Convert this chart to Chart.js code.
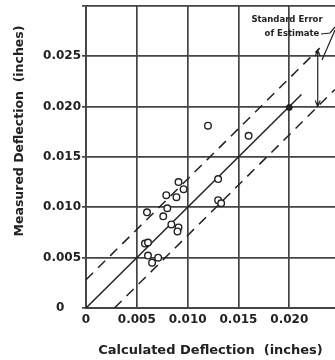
<!DOCTYPE html>
<html>
<head>
<meta charset="utf-8">
<script src="https://cdn.jsdelivr.net/npm/chart.js@4.4.1/dist/chart.umd.min.js"></script>
<style>
    body { margin: 0; background: #fff; }
    canvas { display: block; }
</style>
</head>
<body>
<canvas id="deflectionChart" width="335" height="360"></canvas>
<script>
// calculated vs measured deflection (inches)
var calcX = [0.0120, 0.0160, 0.0130, 0.0130, 0.0133, 0.0091, 0.0096, 0.0089, 0.0079, 0.0080,
             0.0060, 0.0076, 0.0084, 0.0091, 0.0090, 0.0058, 0.0061, 0.0061, 0.0071, 0.0065];
var measY = [0.0181, 0.0171, 0.0128, 0.0107, 0.0104, 0.0125, 0.0118, 0.0110, 0.0112, 0.0099,
             0.0095, 0.0091, 0.0083, 0.0080, 0.0076, 0.0064, 0.0065, 0.0052, 0.0050, 0.0045];
var filledX = [0.0200];
var filledY = [0.0199];

// line of equality and standard error band
var fitX = [0, 0.0212];
var fitY = [0, 0.0212];
var upperX = [0, 0.0230];
var upperY = [0.0028, 0.0258];
var lowerX = [0.0028, 0.0245];
var lowerY = [0, 0.0217];

// standard error marker
var errX = 0.0228;
var errY = [0.0200, 0.0256];

var xTicks = [0, 0.005, 0.010, 0.015, 0.020];
var xLabels = ["0", "0.005", "0.010", "0.015", "0.020"];
var yTicks = [0, 0.005, 0.010, 0.015, 0.020, 0.025, 0.030];
var yLabels = ["0    ", "0.005", "0.010", "0.015", "0.020", "0.025", ""];

function pairs(xs, ys) {
    return xs.map(function (x, i) { return { x: x, y: ys[i] }; });
}

var ink = "#222";
var gridInk = "#444";
var font = "'DejaVu Sans', sans-serif";

var extras = {
    id: "extras",
    afterDraw: function (chart) {
        var ctx = chart.ctx;
        var xs = chart.scales.x, ys = chart.scales.y;
        ctx.save();
        // y axis title
        ctx.fillStyle = ink;
        ctx.font = "bold 12.5px " + font;
        ctx.textAlign = "center";
        ctx.textBaseline = "middle";
        ctx.translate(20, 131);
        ctx.rotate(-Math.PI / 2);
        ctx.fillText("Measured Deflection  (inches)", 0, 0);
        ctx.restore();

        // standard error note
        ctx.save();
        ctx.fillStyle = ink;
        ctx.strokeStyle = ink;
        ctx.font = "bold 8.5px " + font;
        ctx.textAlign = "center";
        ctx.textBaseline = "middle";
        ctx.fillText("Standard Error", 287, 20);
        ctx.fillText("of Estimate", 292, 34);
        ctx.lineWidth = 1.2;
        ctx.beginPath();
        ctx.moveTo(321, 34);
        ctx.lineTo(330, 33);
        ctx.lineTo(335, 27);
        ctx.moveTo(322, 60);
        ctx.lineTo(335, 30);
        ctx.stroke();

        var px = xs.getPixelForValue(errX);
        var y0 = ys.getPixelForValue(errY[0]);
        var y1 = ys.getPixelForValue(errY[1]);
        ctx.beginPath();
        ctx.moveTo(px, y0);
        ctx.lineTo(px, y1);
        ctx.moveTo(px - 2.5, y1 + 6);
        ctx.lineTo(px, y1);
        ctx.lineTo(px + 2.5, y1 + 6);
        ctx.moveTo(px - 2.5, y0 - 6);
        ctx.lineTo(px, y0);
        ctx.lineTo(px + 2.5, y0 - 6);
        ctx.stroke();
        ctx.restore();
    }
};

var chart = new Chart(document.getElementById("deflectionChart"), {
    type: "scatter",
    data: {
        datasets: [
            {
                data: pairs(calcX, measY),
                pointRadius: 3.3,
                pointBorderWidth: 1.4,
                pointBorderColor: ink,
                pointBackgroundColor: "#fff",
            },
            {
                data: pairs(filledX, filledY),
                pointRadius: 3,
                pointBorderWidth: 1,
                pointBorderColor: ink,
                pointBackgroundColor: ink,
            },
            {
                data: pairs(fitX, fitY),
                showLine: true,
                pointRadius: 0,
                borderColor: ink,
                borderWidth: 1.5,
            },
            {
                data: pairs(upperX, upperY),
                showLine: true,
                pointRadius: 0,
                borderColor: ink,
                borderWidth: 1.5,
                borderDash: [10, 7],
            },
            {
                data: pairs(lowerX, lowerY),
                showLine: true,
                pointRadius: 0,
                borderColor: ink,
                borderWidth: 1.5,
                borderDash: [10, 7],
            },
        ],
    },
    options: {
        responsive: false,
        animation: false,
        layout: { autoPadding: false, padding: { top: 5, right: 0, bottom: 0, left: 0 } },
        plugins: {
            legend: { display: false },
            tooltip: { enabled: false },
        },
        scales: {
            x: {
                type: "linear",
                min: 0,
                max: 0.0245,
                afterBuildTicks: function (s) {
                    s.ticks = xTicks.map(function (v) { return { value: v }; });
                },
                afterFit: function (s) { s.height = 52; },
                grid: { color: gridInk, lineWidth: 1.7, drawTicks: false },
                border: { color: gridInk, width: 1.9 },
                ticks: {
                    padding: 5,
                    color: ink,
                    font: { family: font, size: 12, weight: "bold" },
                    callback: function (v, i) { return xLabels[i]; },
                },
                title: {
                    display: true,
                    text: "Calculated Deflection  (inches)",
                    color: ink,
                    font: { family: font, size: 13, weight: "bold" },
                    padding: { top: 0, bottom: 2 },
                },
            },
            y: {
                type: "linear",
                min: 0,
                max: 0.030,
                afterBuildTicks: function (s) {
                    s.ticks = yTicks.map(function (v) { return { value: v }; });
                },
                afterFit: function (s) { s.width = 86; },
                grid: { color: gridInk, lineWidth: 1.7, tickLength: 4 },
                border: { color: gridInk, width: 1.9 },
                ticks: {
                    padding: 1,
                    color: ink,
                    font: { family: font, size: 12, weight: "bold", lineHeight: 0.8 },
                    callback: function (v, i) { return yLabels[i]; },
                },
            },
        },
    },
    plugins: [extras],
});
</script>
</body>
</html>
